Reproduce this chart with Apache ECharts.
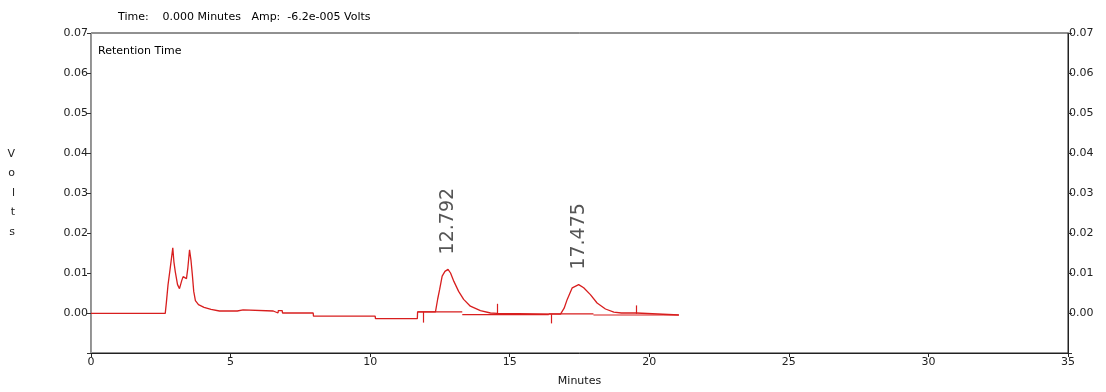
<!DOCTYPE html>
<html>
<head>
<meta charset="utf-8">
<script src="https://cdn.jsdelivr.net/npm/echarts/dist/echarts.min.js"></script>
<style>
  html, body { margin: 0; padding: 0; background: #fff; }
  #chart { width: 1106px; height: 392px; }
</style>
</head>
<body>
<div id="chart"></div>
<script>
// detector trace (minutes / volts)
var timeMin = [0, 2.66, 2.70, 2.76, 2.83, 2.93, 2.97, 3.02, 3.10, 3.17, 3.25, 3.30, 3.42, 3.47, 3.53, 3.58, 3.63, 3.68, 3.74, 3.85, 4.05, 4.30, 4.60,
  5.24, 5.25, 5.45, 5.46, 6.53, 6.54, 6.70, 6.71, 6.85, 6.86, 7.96, 7.97, 10.18, 10.19, 11.69, 11.70,
  12.34, 12.42, 12.49, 12.58, 12.68, 12.79, 12.88, 13.00, 13.17, 13.35, 13.59, 13.95, 14.31, 14.55, 14.56,
  16.82, 16.95, 17.06, 17.24, 17.47, 17.65, 17.89, 18.13, 18.43, 18.73, 19.00, 19.54, 19.55, 21.06];
var volts = [-0.0001, -0.0001, 0.0026, 0.0071, 0.0108, 0.0163, 0.0128, 0.0103, 0.0071, 0.0061, 0.0081, 0.0091, 0.0086, 0.0113, 0.0158, 0.0133, 0.0096, 0.0054, 0.0031, 0.0021, 0.0014, 0.0009, 0.0005,
  0.0005, 0.0008, 0.0008, 0.0005, 0.0005, 0.0000, 0.0000, 0.0006, 0.0006, 0.0000, 0.0000, -0.0008, -0.0008, -0.0014, -0.0014, 0.0003,
  0.0003, 0.0035, 0.0059, 0.0092, 0.0104, 0.0109, 0.0100, 0.0079, 0.0054, 0.0034, 0.0017, 0.0006, 0.0000, -0.0001, -0.0004,
  -0.0003, 0.0012, 0.0034, 0.0063, 0.0071, 0.0063, 0.0046, 0.0025, 0.0010, 0.0002, 0.0000, 0.0000, -0.0005, -0.0005];

// integration baselines
var baseSegStart = [11.70, 13.30, 16.40, 18.00];
var baseSegEnd = [13.30, 16.40, 18.00, 21.06];
var baseSegLevel = [0.0003, -0.0004, -0.0002, -0.0005];

// peak start / end event ticks
var eventTimes = [11.90, 14.55, 16.48, 19.54];
var eventFrom = [0.0003, -0.0002, -0.0003, -0.0002];
var eventTo = [-0.0024, 0.0023, -0.0026, 0.0019];

// retention time labels
var peakTimes = [12.792, 17.475];
var peakHeights = [0.0109, 0.0071];
var peakLabels = ['12.792', '17.475'];

var xTicks = [0, 5, 10, 15, 20, 25, 30, 35];
var yTicks = [0.00, 0.01, 0.02, 0.03, 0.04, 0.05, 0.06, 0.07];

var FONT = 'DejaVu Sans';
var RED = '#d81e1e';

var traceData = timeMin.map(function (t, i) { return [t, volts[i]]; });

var baseData = [];
baseSegStart.forEach(function (s, i) {
  baseData.push([s, baseSegLevel[i]]);
  baseData.push([baseSegEnd[i], baseSegLevel[i]]);
  baseData.push([baseSegEnd[i], '-']);
});

var eventLines = eventTimes.map(function (t, i) {
  return [{ coord: [t, eventFrom[i]] }, { coord: [t, eventTo[i]] }];
});

var peakPoints = peakTimes.map(function (t, i) {
  return { coord: [t, peakHeights[i]], value: peakLabels[i] };
});

var chartDom = document.getElementById('chart');
var chart = echarts.init(chartDom, null, { renderer: 'canvas' });

function yLabel(v) {
  if (v < -0.005) return '';
  return v.toFixed(2);
}

var option = {
  animation: false,
  backgroundColor: '#fff',
  grid: {
    left: 91,
    right: 38,
    top: 33,
    bottom: 38,
    show: true,
    borderColor: '#222',
    borderWidth: 1,
    backgroundColor: '#fff'
  },
  graphic: [
    {
      type: 'text',
      left: 118,
      top: 12,
      style: {
        text: 'Time:    0.000 Minutes   Amp:  -6.2e-005 Volts',
        font: '11px "' + FONT + '"',
        fill: '#000'
      }
    },
    {
      type: 'text',
      left: 98,
      top: 46,
      style: {
        text: 'Retention Time',
        font: '11px "' + FONT + '"',
        fill: '#000'
      }
    }
  ],
  xAxis: {
    type: 'value',
    min: 0,
    max: 35,
    interval: 5,
    name: 'Minutes',
    nameLocation: 'middle',
    nameGap: 23,
    nameTextStyle: { fontFamily: FONT, fontSize: 11, color: '#111' },
    axisLine: { onZero: false, lineStyle: { color: '#222', width: 1 } },
    axisTick: { length: 4, lineStyle: { color: '#222' } },
    axisLabel: {
      margin: 4,
      fontFamily: FONT,
      fontSize: 11,
      color: '#222',
      formatter: function (v) { return xTicks.indexOf(v) >= 0 ? String(v) : ''; }
    },
    splitLine: { show: false }
  },
  yAxis: [
    {
      type: 'value',
      min: -0.01,
      max: 0.07,
      interval: 0.01,
      position: 'left',
      name: 'V\no\nl\nt\ns',
      nameLocation: 'middle',
      nameRotate: 0,
      nameGap: 76,
      nameTextStyle: { fontFamily: FONT, fontSize: 11, color: '#222', lineHeight: 19.5 },
      axisLine: { show: true, lineStyle: { color: '#999', width: 1 } },
      axisTick: { show: true, length: 4, lineStyle: { color: '#333' } },
      axisLabel: {
        margin: 3,
        fontFamily: FONT,
        fontSize: 11,
        color: '#222',
        formatter: yLabel
      },
      splitLine: { show: false }
    },
    {
      type: 'value',
      min: -0.01,
      max: 0.07,
      interval: 0.01,
      position: 'right',
      axisLine: { show: true, lineStyle: { color: '#222', width: 1 } },
      axisTick: { show: true, length: 4, lineStyle: { color: '#333' } },
      axisLabel: {
        margin: 1,
        fontFamily: FONT,
        fontSize: 11,
        color: '#222',
        formatter: yLabel
      },
      splitLine: { show: false }
    }
  ],
  series: [
    {
      name: 'baseline',
      type: 'line',
      data: baseData,
      showSymbol: false,
      connectNulls: false,
      lineStyle: { color: RED, width: 1.2 },
      silent: true
    },
    {
      name: 'trace',
      type: 'line',
      data: traceData,
      showSymbol: false,
      lineStyle: { color: RED, width: 1.3 },
      markLine: {
        silent: true,
        symbol: ['none', 'none'],
        label: { show: false },
        lineStyle: { color: RED, width: 1.2, type: 'solid' },
        data: eventLines
      },
      markPoint: {
        symbol: 'circle',
        symbolSize: 0,
        silent: true,
        label: {
          show: true,
          position: [0, -15],
          rotate: 90,
          align: 'left',
          verticalAlign: 'middle',
          fontFamily: FONT,
          fontSize: 19,
          color: '#555',
          formatter: function (p) { return p.value; }
        },
        data: peakPoints
      }
    }
  ]
};

chart.setOption(option, true);
</script>
</body>
</html>
